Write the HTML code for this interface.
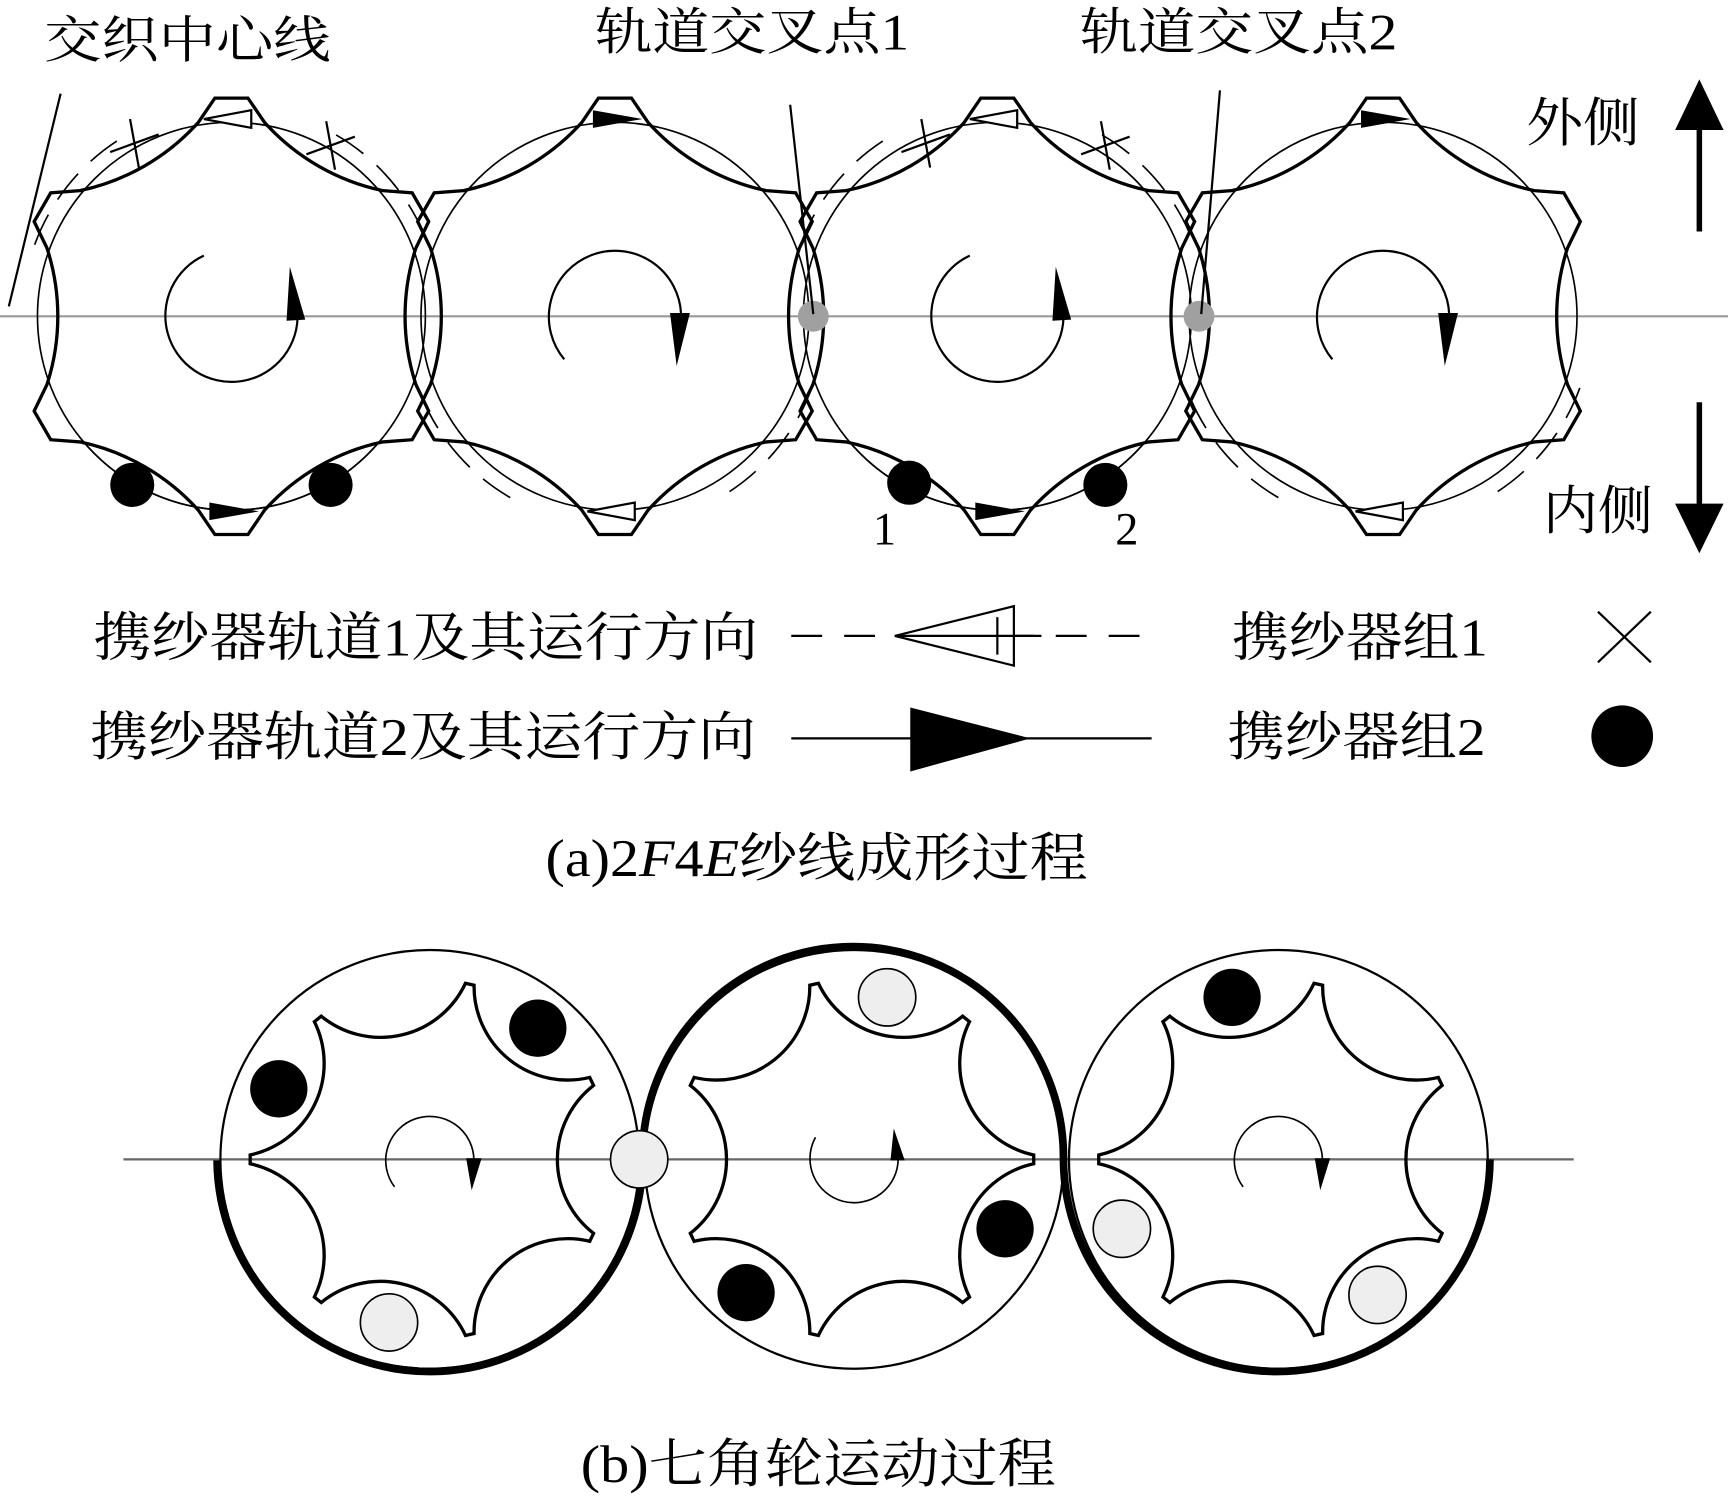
<!DOCTYPE html>
<html><head><meta charset="utf-8"><style>
html,body{margin:0;padding:0;background:#fff}
svg{display:block}
text{font-family:"Liberation Serif","Noto Serif CJK SC",serif;fill:#000}
</style></head><body>
<svg id="s" width="1728" height="1501" viewBox="0 0 1568 1362" xmlns="http://www.w3.org/2000/svg">
<rect width="1568" height="1362" fill="#fff"/>
<g id="a"></g>
<text x="40" y="52" font-size="46" textLength="260" lengthAdjust="spacingAndGlyphs">交织中心线</text>
<text x="540" y="45" font-size="46" textLength="285" lengthAdjust="spacingAndGlyphs">轨道交叉点1</text>
<text x="980" y="45" font-size="46" textLength="288" lengthAdjust="spacingAndGlyphs">轨道交叉点2</text>
<line x1="55" y1="85" x2="8" y2="278" stroke="#000" stroke-width="2"/>
<line x1="717" y1="95" x2="738" y2="285" stroke="#000" stroke-width="2"/>
<line x1="1107" y1="82" x2="1090" y2="285" stroke="#000" stroke-width="2"/>
<text x="1385" y="128" font-size="48" textLength="103" lengthAdjust="spacingAndGlyphs">外侧</text>
<text x="1400" y="480" font-size="48" textLength="100" lengthAdjust="spacingAndGlyphs">内侧</text>
<line x1="1542" y1="210" x2="1542" y2="110" stroke="#000" stroke-width="5"/>
<polygon points="1520,118 1564,118 1542,72" fill="#000"/>
<line x1="1542" y1="365" x2="1542" y2="465" stroke="#000" stroke-width="5"/>
<polygon points="1520,457 1564,457 1542,502" fill="#000"/>
<text x="792" y="494" font-size="42">1</text>
<text x="1012" y="494" font-size="42">2</text>
<text x="85" y="595" font-size="48" textLength="603" lengthAdjust="spacingAndGlyphs">携纱器轨道1及其运行方向</text>
<text x="82" y="685" font-size="48" textLength="604" lengthAdjust="spacingAndGlyphs">携纱器轨道2及其运行方向</text>
<text x="1118" y="595" font-size="48" textLength="232" lengthAdjust="spacingAndGlyphs">携纱器组1</text>
<text x="1114" y="685" font-size="48" textLength="234" lengthAdjust="spacingAndGlyphs">携纱器组2</text>
<line x1="718" y1="577" x2="1045" y2="577" stroke="#000" stroke-width="2" stroke-dasharray="28,20"/>
<polygon points="812,577 920,550 920,604" fill="#fff" stroke="#000" stroke-width="2"/>
<line x1="812" y1="577" x2="945" y2="577" stroke="#000" stroke-width="2"/>
<line x1="905" y1="560" x2="905" y2="594" stroke="#000" stroke-width="2"/>
<line x1="718" y1="670" x2="1045" y2="670" stroke="#000" stroke-width="2"/>
<polygon points="826,642 826,700 935,670" fill="#000"/>
<line x1="1450" y1="555" x2="1498" y2="601" stroke="#000" stroke-width="2"/>
<line x1="1498" y1="555" x2="1450" y2="601" stroke="#000" stroke-width="2"/>
<circle cx="1472" cy="668" r="28" fill="#000"/>
<text x="495" y="795" font-size="48" textLength="492" lengthAdjust="spacingAndGlyphs">(a)2<tspan font-style="italic">F</tspan>4<tspan font-style="italic">E</tspan>纱线成形过程</text>
<g id="b"></g>
<text x="527" y="1345" font-size="48" textLength="431" lengthAdjust="spacingAndGlyphs">(b)七角轮运动过程</text>
</svg>
<script>
var NS="http://www.w3.org/2000/svg";
function el(p,t,a){var e=document.createElementNS(NS,t);for(var k in a)e.setAttribute(k,a[k]);p.appendChild(e);return e;}
function rot(x,y,d){var r=d*Math.PI/180;return [x*Math.cos(r)-y*Math.sin(r),x*Math.sin(r)+y*Math.cos(r)];}
function pt(cx,cy,r,a){return [cx+r*Math.cos(a*Math.PI/180),cy+r*Math.sin(a*Math.PI/180)];}
function arcCW(cx,cy,r,a1,a2){var p1=pt(cx,cy,r,a1),p2=pt(cx,cy,r,a2);var sp=((a2-a1)%360+360)%360;return 'M'+p1[0]+' '+p1[1]+' A'+r+' '+r+' 0 '+(sp>180?1:0)+' 1 '+p2[0]+' '+p2[1];}
var A=document.getElementById('a'),B=document.getElementById('b');
var cy=287,cs=[210,558,905,1255];
el(A,'line',{x1:0,y1:cy,x2:1568,y2:cy,stroke:'#999','stroke-width':2});
function gearA(cx){
 var d='';
 for(var i=0;i<6;i++){
  var pts=[[-30,-176],[-15,-198],[15,-198],[30,-176]].map(function(p){var q=rot(p[0],p[1],i*60);return [cx+q[0],cy+q[1]];});
  if(i==0)d+='M'+pts[0][0].toFixed(1)+' '+pts[0][1].toFixed(1);
  else d+=' A200 200 0 0 0 '+pts[0][0].toFixed(1)+' '+pts[0][1].toFixed(1);
  for(var j=1;j<4;j++)d+=' L'+pts[j][0].toFixed(1)+' '+pts[j][1].toFixed(1);
 }
 d+=' A200 200 0 0 0 '+(cx-30)+' '+(cy-176)+'Z';
 el(A,'path',{d:d,fill:'none',stroke:'#000','stroke-width':3});
 el(A,'circle',{cx:cx,cy:cy,r:176,fill:'none',stroke:'#000','stroke-width':1.5});
}
cs.forEach(function(cx,i){
 gearA(cx);
 var ds={fill:'none',stroke:'#000','stroke-width':1.5,'stroke-dasharray':'30,16'};
 if(i%2==0){
   var o=Object.assign({},ds);o.d=arcCW(cx,cy,190,-160,-120);el(A,'path',o);
   o=Object.assign({},ds);o.d=arcCW(cx,cy,190,-60,-20);el(A,'path',o);
   el(A,'path',{d:arcCW(cx,cy,176,40,140),fill:'none',stroke:'#000','stroke-width':1.5});
   el(A,'path',{d:'M'+(cx-25)+' '+(cy-55)+' A60 60 0 1 0 '+(cx+60)+' '+(cy+2),fill:'none',stroke:'#000','stroke-width':2});
   el(A,'polygon',{points:(cx+53)+','+(cy-45)+' '+(cx+50)+','+(cy+4)+' '+(cx+67)+','+(cy+3),fill:'#000'});
 } else {
   var o=Object.assign({},ds);o.d=arcCW(cx,cy,190,20,60);el(A,'path',o);
   o=Object.assign({},ds);o.d=arcCW(cx,cy,190,120,160);el(A,'path',o);
   el(A,'path',{d:'M'+(cx-46)+' '+(cy+39)+' A60 60 0 1 1 '+(cx+60)+' '+(cy-2),fill:'none',stroke:'#000','stroke-width':2});
   el(A,'polygon',{points:(cx+50)+','+(cy-3)+' '+(cx+68)+','+(cy-3)+' '+(cx+56)+','+(cy+45),fill:'#000'});
 }
});
[[210,108,0],[558,108,1],[905,108,0],[1255,108,1],[210,464,1],[558,464,0],[905,464,1],[1255,464,0]].forEach(function(t){
 var x=t[0],y=t[1];
 if(t[2]==0) el(A,'polygon',{points:(x-25)+','+y+' '+(x+18)+','+(y-8)+' '+(x+18)+','+(y+8),fill:'#fff',stroke:'#000','stroke-width':2});
 else el(A,'polygon',{points:(x-20)+','+(y-8)+' '+(x-20)+','+(y+8)+' '+(x+25)+','+y,fill:'#000'});
});
[[122,130],[300,132],[840,130],[1003,132]].forEach(function(c){
 el(A,'line',{x1:c[0]-4,y1:c[1]-22,x2:c[0]+4,y2:c[1]+22,stroke:'#000','stroke-width':2});
 el(A,'line',{x1:c[0]-22,y1:c[1]+8,x2:c[0]+22,y2:c[1]-8,stroke:'#000','stroke-width':2});
});
[[120,440],[300,440],[825,438],[1003,440]].forEach(function(c){el(A,'circle',{cx:c[0],cy:c[1],r:20,fill:'#000'});});
[738,1088].forEach(function(x){el(A,'circle',{cx:x,cy:cy,r:14,fill:'#a0a0a0'});});

var by=1052,bc=[390,775,1160];
el(B,'line',{x1:112,y1:by,x2:1428,y2:by,stroke:'#666','stroke-width':2});
function gearB(cx,off){
 var d='',R=163;
 for(var i=0;i<7;i++){
  var a=off+i*360/7;
  var p1=rot(R,-4,a),p2=rot(R,4,a);
  if(i==0)d+='M'+(cx+p1[0])+' '+(by+p1[1]);else d+=' A85 85 0 0 0 '+(cx+p1[0])+' '+(by+p1[1]);
  d+=' L'+(cx+p2[0])+' '+(by+p2[1]);
 }
 var p=rot(R,-4,off);d+=' A85 85 0 0 0 '+(cx+p[0])+' '+(by+p[1])+'Z';
 el(B,'path',{d:d,fill:'none',stroke:'#000','stroke-width':3});
 el(B,'circle',{cx:cx,cy:by,r:190,fill:'none',stroke:'#000','stroke-width':2});
}
bc.forEach(function(cx,i){gearB(cx,i==1?0:180);});
[0,2].forEach(function(i){var cx=bc[i];
 el(B,'path',{d:'M'+(cx-32)+' '+(by+25)+' A40 40 0 1 1 '+(cx+40)+' '+by,fill:'none',stroke:'#000','stroke-width':1.5});
 el(B,'polygon',{points:(cx+33)+','+(by-1)+' '+(cx+47)+','+(by-1)+' '+(cx+38)+','+(by+28),fill:'#000'});
});
(function(){var cx=bc[1];
 el(B,'path',{d:'M'+(cx-35)+' '+(by-20)+' A40 40 0 1 0 '+(cx+40)+' '+by,fill:'none',stroke:'#000','stroke-width':1.5});
 el(B,'polygon',{points:(cx+33)+','+(by+1)+' '+(cx+46)+','+(by+1)+' '+(cx+36)+','+(by-28),fill:'#000'});
})();
el(B,'path',{d:'M197 1053 A190 190 0 0 0 583 1050 A190 190 0 0 1 965 1050 A190 190 0 0 0 1352 1052',fill:'none',stroke:'#000','stroke-width':7});
[[253,988],[488,933],[912,1115],[677,1173],[1118,905]].forEach(function(c){el(B,'circle',{cx:c[0],cy:c[1],r:26,fill:'#000'});});
[[353,1200],[580,1052],[805,905],[1018,1115],[1250,1175]].forEach(function(c){el(B,'circle',{cx:c[0],cy:c[1],r:26,fill:'#eee',stroke:'#000','stroke-width':1.5});});
</script>
</body></html>
